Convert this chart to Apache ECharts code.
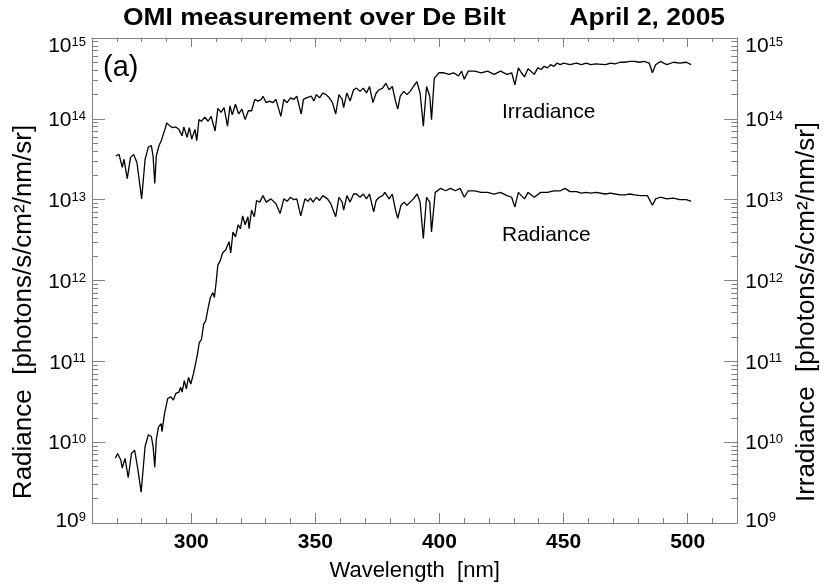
<!DOCTYPE html>
<html><head><meta charset="utf-8">
<script src="https://cdn.jsdelivr.net/npm/echarts@6/dist/echarts.min.js"></script>
<style>html,body{margin:0;padding:0;background:#fff}#c{width:828px;height:587px}</style>
</head><body><div id="c"></div>
<script>
// Values (log10 of the value on the logarithmic axis)
const irradianceWavelength = [269.6,270.9,272.2,272.9,274.2,275.5,276.8,278.1,280.0,281.4,282.7,283.9,284.6,285.3,285.9,287.0,287.9,288.5,289.6,290.1,291.1,292.4,293.7,295.0,296.3,297.0,298.3,299.2,300.2,301.5,302.2,303.1,304.1,305.4,306.8,308.0,309.6,310.7,312.0,313.2,314.6,315.6,316.5,317.8,319.1,320.4,321.7,323.0,324.3,325.6,326.9,328.2,328.9,330.2,331.5,332.8,334.1,336.1,337.3,338.6,340.0,341.3,342.5,344.3,345.2,346.4,348.4,349.4,350.4,351.7,353.0,354.3,355.6,356.9,358.2,359.5,360.8,361.4,362.7,364.0,365.4,366.6,368.0,369.3,370.6,371.8,373.2,374.5,375.7,377.1,378.4,379.7,381.0,382.3,383.2,384.2,385.6,386.9,388.2,389.5,390.9,392.2,393.5,394.8,396.1,396.8,397.9,399.8,401.8,403.8,405.7,407.7,408.9,410.0,411.6,414.2,416.8,419.4,422.0,424.6,427.2,429.1,430.4,431.8,433.0,434.3,435.7,438.2,439.6,441.0,442.2,443.5,444.8,446.1,447.4,448.7,450.0,452.6,455.2,457.2,459.1,461.0,463.0,466.9,468.9,470.8,472.8,474.7,476.7,478.6,480.5,482.5,484.5,485.8,487.1,489.0,491.6,494.3,496.8,499.5,501.4];
const irradianceLog10 = [13.54,13.56,13.40,13.50,13.26,13.52,13.56,13.46,13.01,13.50,13.65,13.67,13.54,13.20,13.54,13.67,13.73,13.75,13.89,13.95,13.92,13.89,13.90,13.87,13.79,13.90,13.77,13.89,13.75,13.87,13.73,13.99,13.97,14.02,13.97,14.03,13.85,14.13,14.08,14.14,13.91,14.16,14.05,14.18,14.06,14.12,13.99,14.10,14.10,14.24,14.22,14.24,14.28,14.20,14.22,14.20,14.24,14.03,14.24,14.20,14.26,14.24,14.28,14.06,14.24,14.26,14.28,14.22,14.30,14.26,14.32,14.30,14.26,14.20,14.06,14.30,14.24,14.14,14.32,14.22,14.36,14.38,14.34,14.38,14.32,14.40,14.20,14.32,14.36,14.38,14.44,14.36,14.40,14.22,14.12,14.28,14.34,14.30,14.34,14.40,14.46,14.32,13.91,14.40,14.28,13.99,14.50,14.57,14.57,14.55,14.57,14.53,14.59,14.49,14.59,14.59,14.57,14.59,14.55,14.59,14.55,14.57,14.42,14.63,14.57,14.52,14.62,14.55,14.63,14.61,14.65,14.63,14.67,14.65,14.69,14.67,14.69,14.67,14.69,14.67,14.69,14.67,14.68,14.67,14.69,14.68,14.70,14.70,14.71,14.71,14.70,14.71,14.69,14.57,14.67,14.71,14.67,14.70,14.69,14.70,14.67];

const radianceWavelength = [269.4,270.3,271.6,272.2,273.3,274.6,275.9,277.2,278.5,279.8,281.4,282.7,283.9,284.6,285.3,285.9,286.8,287.9,288.2,289.2,290.5,291.8,292.8,293.7,295.0,295.7,296.3,297.2,298.0,298.9,299.8,300.9,301.7,302.5,303.2,304.1,305.0,305.8,306.8,307.7,308.7,309.3,310.0,310.7,311.6,312.6,313.9,315.2,315.9,316.8,317.8,318.9,319.8,320.7,321.7,322.8,323.3,324.3,325.4,326.3,327.6,328.9,330.2,332.1,334.1,335.8,337.3,338.6,340.0,341.3,342.5,344.1,345.8,347.0,348.0,349.1,350.4,351.7,353.0,354.9,356.2,358.2,359.5,360.8,361.4,362.7,364.0,365.4,366.6,368.0,369.3,370.6,371.8,373.5,374.5,375.7,377.1,378.0,379.7,381.0,382.3,383.2,384.5,385.8,386.9,388.2,389.5,391.0,392.2,393.5,394.8,396.1,396.8,398.3,400.5,402.5,404.4,406.4,408.3,410.0,411.6,414.2,416.8,419.4,422.0,424.6,427.2,429.1,430.4,431.8,433.0,434.3,435.7,438.2,440.8,443.5,446.1,448.7,450.6,452.6,455.2,457.2,459.1,461.0,463.0,466.9,468.9,470.8,472.8,474.7,476.7,478.6,481.0,483.8,485.8,487.1,489.0,491.6,494.3,496.8,499.5,501.4];
const radianceLog10 = [9.80,9.86,9.78,9.68,9.80,9.56,9.86,9.90,9.66,9.38,9.95,10.09,10.07,9.95,9.69,10.03,10.19,10.23,10.13,10.35,10.54,10.56,10.52,10.60,10.62,10.68,10.62,10.76,10.66,10.80,10.72,10.85,10.97,11.09,11.23,11.27,11.46,11.50,11.66,11.79,11.85,11.79,11.97,12.19,12.24,12.34,12.38,12.48,12.34,12.60,12.54,12.69,12.64,12.80,12.69,12.79,12.64,12.87,12.79,12.99,12.97,13.05,12.97,13.01,12.95,12.83,13.01,12.98,13.03,13.00,13.01,12.80,13.01,12.98,13.02,12.97,13.03,12.99,13.05,13.01,12.95,12.79,13.03,12.97,12.87,13.05,12.97,13.07,13.07,13.03,13.07,13.01,13.07,12.85,12.99,13.03,13.05,13.09,13.01,13.07,12.87,12.77,12.93,12.97,12.93,12.97,13.01,13.07,12.97,12.52,13.03,12.97,12.60,13.09,13.14,13.11,13.14,13.11,13.14,13.03,13.11,13.11,13.09,13.09,13.07,13.09,13.05,13.03,12.91,13.09,13.05,13.01,13.09,13.03,13.09,13.09,13.11,13.11,13.14,13.10,13.10,13.08,13.09,13.08,13.09,13.07,13.08,13.07,13.06,13.06,13.07,13.06,13.05,13.05,12.93,13.01,13.03,13.01,13.02,13.00,13.00,12.98];

const xMajorTicks = [300, 350, 400, 450, 500];
const xMinorTicks = [270,280,290,310,320,330,340,360,370,380,390,410,420,430,440,460,470,480,490,510];
const yMajorTicks = [1e9, 1e10, 1e11, 1e12, 1e13, 1e14, 1e15];
const yMinorMultipliers = [2, 3, 4, 5, 6, 7, 8, 9];

const yMinorTicks = [];
for (let e = 9; e < 15; e++) for (const m of yMinorMultipliers) yMinorTicks.push(m * Math.pow(10, e));

const FONT = '"Liberation Sans", Arial, Helvetica, sans-serif';
const AX = '#808080';

const irrData = irradianceWavelength.map((w, i) => [w, Math.pow(10, irradianceLog10[i])]);
const radData = radianceWavelength.map((w, i) => [w, Math.pow(10, radianceLog10[i])]);

function xAx(pos, ticks, len, main) {
  return {
    type: 'value', min: 260, max: 520, position: pos,
    axisLine: { show: main, lineStyle: { color: AX, width: 1 } },
    axisTick: { show: true, inside: true, length: len, customValues: ticks, lineStyle: { color: AX, width: 1 } },
    axisLabel: (main && pos === 'bottom') ? { show: true, customValues: xMajorTicks, fontFamily: FONT, fontWeight: 'bold', fontSize: 21, color: '#000', margin: 9 } : { show: false },
    splitLine: { show: false },
    name: (main && pos === 'bottom') ? 'Wavelength  [nm]' : '',
    nameLocation: 'middle', nameGap: 37,
    nameTextStyle: { fontFamily: FONT, fontSize: 22, color: '#000' }
  };
}
// exponent labels: the extreme labels sit slightly inside the frame, as in the reference
const yLabelFmt = v => {
  const e = Math.round(Math.log10(v));
  const k = e === 15 ? 't' : (e === 9 ? 'm' : 'n');
  return '{b' + k + '|10}{s' + k + '|' + e + '}';
};
const bBase = { fontFamily: FONT, fontSize: 21, color: '#000', lineHeight: 24, verticalAlign: 'top' };
const sBase = { fontFamily: FONT, fontSize: 13, color: '#000', lineHeight: 13, verticalAlign: 'top' };
const yRich = {
  bn: Object.assign({}, bBase, { padding: [3, 0, 0, 0] }), sn: Object.assign({}, sBase, { padding: [3, 0, 0, 0] }),
  bt: Object.assign({}, bBase, { padding: [10, 0, 0, 0] }), st: Object.assign({}, sBase, { padding: [10, 0, 0, 0] }),
  bm: Object.assign({}, bBase, { padding: [0, 0, 14, 0] }), sm: Object.assign({}, sBase, { padding: [0, 0, 14, 0] })
};
function yAx(pos, ticks, len, main, name, pad) {
  return {
    type: 'log', logBase: 10, min: 0.9999e9, max: 1.0001e15, position: pos,
    axisLine: { show: main, lineStyle: { color: AX, width: 1 } },
    axisTick: { show: true, inside: true, length: len, customValues: ticks, lineStyle: { color: AX, width: 1 } },
    axisLabel: main ? { show: true, customValues: yMajorTicks, showMaxLabel: true, showMinLabel: true, hideOverlap: false, formatter: yLabelFmt, rich: yRich, margin: pos === 'left' ? 6 : 8 } : { show: false },
    splitLine: { show: false },
    name: main ? name : '',
    nameLocation: 'middle', nameGap: pos === 'left' ? 55 : 43,
    nameTextStyle: { fontFamily: FONT, fontSize: 26, color: '#000', padding: [0, pad, 0, 0] }
  };
}

const chart = echarts.init(document.getElementById('c'), null, { renderer: 'canvas' });
chart.setOption({
  animation: false,
  backgroundColor: '#fff',
  grid: { left: 92, right: 70, top: 38, bottom: 60, containLabel: false },
  xAxis: [
    xAx('bottom', xMajorTicks, 10, true),
    xAx('bottom', xMinorTicks, 5, false),
    xAx('top', xMajorTicks, 9, true),
    xAx('top', xMinorTicks, 4, false)
  ],
  yAxis: [
    yAx('left', yMajorTicks, 13, true, 'Radiance  [photons/s/cm²/nm/sr]', 63),
    yAx('left', yMinorTicks, 6, false, '', 0),
    yAx('right', yMajorTicks, 13, true, 'Irradiance  [photons/s/cm²/nm/sr]', 63),
    yAx('right', yMinorTicks, 6, false, '', 0)
  ],
  graphic: [
    { type: 'text', x: 123, y: 18, scaleX: 1.1, style: { text: 'OMI measurement over De Bilt', font: 'bold 24px ' + FONT, fill: '#000', textAlign: 'left', align: 'left', textVerticalAlign: 'middle', verticalAlign: 'middle' } },
    { type: 'text', x: 725, y: 18, scaleX: 1.1, style: { text: 'April 2, 2005', font: 'bold 24px ' + FONT, fill: '#000', textAlign: 'right', align: 'right', textVerticalAlign: 'middle', verticalAlign: 'middle' } },
    { type: 'text', x: 103, y: 68, style: { text: '(a)', font: '29px ' + FONT, fill: '#000', textAlign: 'left', align: 'left', textVerticalAlign: 'middle', verticalAlign: 'middle' } },
    { type: 'text', x: 502, y: 112.5, style: { text: 'Irradiance', font: '21px ' + FONT, fill: '#000', textAlign: 'left', align: 'left', textVerticalAlign: 'middle', verticalAlign: 'middle' } },
    { type: 'text', x: 502, y: 235, style: { text: 'Radiance', font: '21px ' + FONT, fill: '#000', textAlign: 'left', align: 'left', textVerticalAlign: 'middle', verticalAlign: 'middle' } }
  ],
  series: [
    { name: 'Irradiance', type: 'line', xAxisIndex: 0, yAxisIndex: 0, data: irrData, showSymbol: false, symbol: 'none', lineStyle: { color: '#000', width: 1.3 }, clip: true },
    { name: 'Radiance', type: 'line', xAxisIndex: 0, yAxisIndex: 0, data: radData, showSymbol: false, symbol: 'none', lineStyle: { color: '#000', width: 1.3 }, clip: true }
  ]
});
</script></body></html>
